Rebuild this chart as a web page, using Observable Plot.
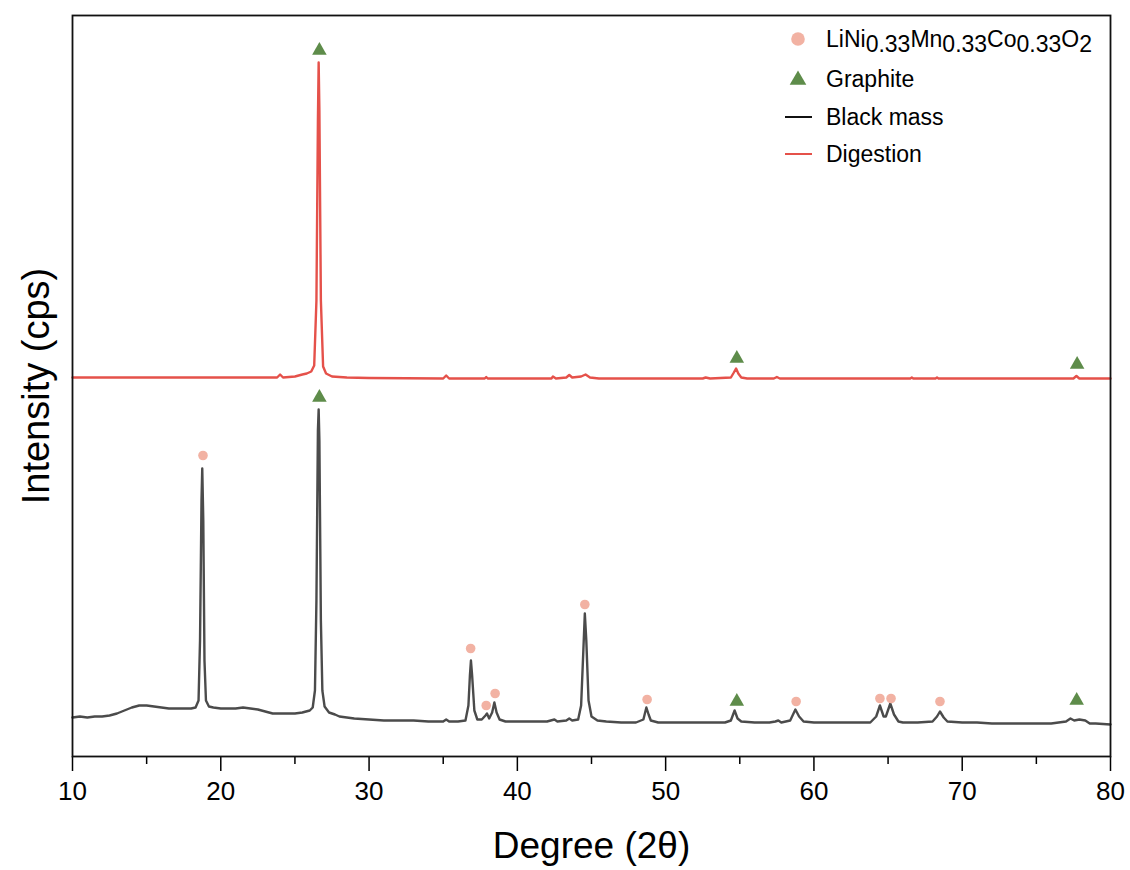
<!DOCTYPE html>
<html>
<head>
<meta charset="utf-8">
<script src="https://cdn.jsdelivr.net/npm/d3@7"></script>
<script src="https://cdn.jsdelivr.net/npm/@observablehq/plot@0.6"></script>
<style>
  html, body { margin: 0; padding: 0; background: #fff; }
  #chart { width: 1130px; height: 870px; }
  svg { font-family: "Liberation Sans", Arial, Helvetica, sans-serif; }
</style>
</head>
<body>
<div id="chart"></div>
<script>
// ---- Data (intensity in arbitrary cps units, offsets included) ----
const blackMassDeg = [10,10.5,11,11.5,12,12.5,13,13.5,14,14.5,15,15.5,16,16.5,17,17.5,18,18.3,18.5,18.6,18.7,18.75,18.82,18.9,19,19.2,19.5,20,20.5,21,21.5,22,22.5,23,23.5,24,24.5,25,25.5,26,26.2,26.35,26.45,26.55,26.6,26.65,26.75,26.85,27,27.3,27.7,28,28.5,29,30,31,32,33,34,35,35.2,35.4,36,36.5,36.7,36.8,36.87,36.95,37.1,37.3,37.6,37.85,37.95,38.1,38.3,38.45,38.6,38.8,39.2,40,41,42,42.5,42.7,43.3,43.5,43.7,44.1,44.3,44.45,44.55,44.65,44.8,45,45.4,46,47,48,48.5,48.7,48.85,49,49.5,50,51,52,53,54,54.4,54.65,54.85,55.1,56,57,57.4,57.6,57.8,58.4,58.75,59,59.3,60,61,62,63,63.8,64.2,64.45,64.7,64.85,65.15,65.4,65.7,66,67,68,68.3,68.5,68.75,69,70,71,72,73,74,75,76,77,77.3,77.55,77.9,78.3,78.6,79,80];
const blackMassInt = [390,400,390,400,400,410,430,460,490,510,510,500,490,480,480,480,480,490,560,1160,2560,2880,2360,960,560,500,490,480,480,480,490,480,470,450,430,430,430,430,440,460,490,660,1560,3260,3470,3160,1360,660,500,440,420,400,390,380,370,360,360,360,350,350,370,350,350,360,510,810,960,810,460,370,370,410,430,380,440,540,440,370,350,350,350,350,370,350,360,380,360,370,510,1060,1430,1160,560,400,360,350,340,340,370,490,420,360,340,340,340,340,340,340,360,460,380,350,340,340,350,360,340,360,470,400,350,340,340,340,340,340,400,510,400,400,530,420,350,340,340,350,400,450,390,350,340,340,330,330,330,330,330,350,380,360,370,360,330,330,320];

const digestionDeg = [10,12,14,16,18,20,22,23.8,24,24.2,25,25.5,25.8,26.1,26.3,26.45,26.55,26.6,26.65,26.75,26.9,27.1,27.5,28.5,30,35,35.2,35.4,37.8,37.9,38,42.3,42.4,42.6,43.3,43.5,43.7,44.3,44.6,44.9,45.5,50,52.5,52.7,53,54.4,54.6,54.75,54.9,55.1,55.5,57.3,57.5,57.7,60,66.5,66.6,66.7,68.2,68.3,68.4,75,77.5,77.7,77.9,80];
const digestionInt = [3790,3790,3790,3790,3790,3790,3790,3790,3820,3790,3800,3820,3830,3850,3910,4560,6360,6940,6460,4560,3900,3830,3800,3790,3785,3780,3810,3780,3780,3795,3780,3780,3800,3780,3790,3815,3790,3800,3820,3790,3780,3780,3780,3790,3780,3790,3840,3880,3830,3790,3780,3780,3795,3780,3780,3780,3790,3780,3780,3790,3780,3780,3780,3805,3780,3780];

// Phase markers
const nmcDeg = [18.8, 36.85, 37.9, 38.5, 44.55, 48.75, 58.8, 64.45, 65.2, 68.5];
const nmcInt = [3010, 1080, 510, 630, 1520, 570, 550, 580, 580, 550];
const graphiteBlackDeg = [26.65, 54.8, 77.72];
const graphiteBlackInt = [3590, 550, 560];
const graphiteRedDeg = [26.65, 54.8, 77.75];
const graphiteRedInt = [7060, 3980, 3920];

const majorTicks = [10, 20, 30, 40, 50, 60, 70, 80];
const minorTicks = [15, 25, 35, 45, 55, 65, 75];

const legendItems = ["LiNi0.33Mn0.33Co0.33O2", "Graphite", "Black mass", "Digestion"];

// ---- Build tables ----
const blackMass = blackMassDeg.map((d, i) => ({deg: d, int: blackMassInt[i]}));
const digestion = digestionDeg.map((d, i) => ({deg: d, int: digestionInt[i]}));
const nmc = nmcDeg.map((d, i) => ({deg: d, int: nmcInt[i]}));
const graphite = graphiteBlackDeg.map((d, i) => ({deg: d, int: graphiteBlackInt[i]}))
  .concat(graphiteRedDeg.map((d, i) => ({deg: d, int: graphiteRedInt[i]})));

const C_BLACK = "#4b4b4b", C_RED = "#e5514a", C_NMC = "#f2b2a3", C_GR = "#5e8c4a";

const chart = Plot.plot({
  width: 1130,
  height: 870,
  marginLeft: 72,
  marginRight: 20,
  marginTop: 15,
  marginBottom: 114,
  style: {fontFamily: '"Liberation Sans", Arial, Helvetica, sans-serif', fontSize: "26px", color: "#000", background: "#fff"},
  x: {domain: [10, 80]},
  y: {domain: [0, 7410], axis: null},
  marks: [
    Plot.axisX({ticks: minorTicks, tickSize: 8, tickFormat: () => "", strokeWidth: 1.5, label: null}),
    Plot.axisX({ticks: majorTicks, tickSize: 15, tickPadding: 10, fontSize: 26, strokeWidth: 1.5, label: null, tickFormat: d3.format("d")}),
    Plot.line(blackMass, {x: "deg", y: "int", stroke: C_BLACK, strokeWidth: 2.4, strokeLinejoin: "round"}),
    Plot.line(digestion, {x: "deg", y: "int", stroke: C_RED, strokeWidth: 2.4, strokeLinejoin: "round"}),
    Plot.dot(nmc, {x: "deg", y: "int", r: 4.8, fill: C_NMC, stroke: "none"}),
    Plot.dot(graphite, {x: "deg", y: "int", symbol: "triangle", r: 5.4, fill: C_GR, stroke: "none"}),
    Plot.frame({stroke: "#111", strokeWidth: 1.8}),
    Plot.text(["Degree (2θ)"], {frameAnchor: "bottom", dy: 90, lineAnchor: "middle", textAnchor: "middle", fontSize: 37, fill: "#000"}),
    Plot.text(["Intensity (cps)"], {frameAnchor: "left", dx: -36, rotate: -90, lineAnchor: "middle", textAnchor: "middle", fontSize: 38, fill: "#000"})
  ]
});

document.getElementById("chart").appendChild(chart);
d3.select(chart).selectAll("g[aria-label='x-axis tick label']").attr("font-size", 26);
d3.select(chart).selectAll("g[aria-label='x-axis tick label'] text").style("font-size", "26px");

// ---- Legend (inside the frame, top right) ----
const svg = d3.select(chart);
const lg = svg.append("g").attr("font-size", 23).style("font-size", "23px").attr("fill", "#000").attr("text-anchor", "start");
const rows = [39, 79, 117, 154];
const mx = 798, tx = 826;

lg.append("circle").attr("cx", mx).attr("cy", rows[0]).attr("r", 6.8).attr("fill", C_NMC);
lg.append("path").attr("d", d3.symbol(d3.symbolTriangle, 120)()).attr("transform", `translate(${mx},${rows[1] + 1})`).attr("fill", C_GR);
lg.append("line").attr("x1", 785).attr("x2", 812).attr("y1", rows[2]).attr("y2", rows[2]).attr("stroke", "#111").attr("stroke-width", 2);
lg.append("line").attr("x1", 785).attr("x2", 812).attr("y1", rows[3]).attr("y2", rows[3]).attr("stroke", C_RED).attr("stroke-width", 2);

// Formula with subscripts
const f = lg.append("text").attr("x", tx).attr("y", rows[0] + 8);
const parts = [["LiNi", false], ["0.33", true], ["Mn", false], ["0.33", true], ["Co", false], ["0.33", true], ["O", false], ["2", true]];
let shifted = false;
parts.forEach(([s, sub]) => {
  let dy = 0;
  if (sub && !shifted) { dy = 5; shifted = true; }
  else if (!sub && shifted) { dy = -5; shifted = false; }
  f.append("tspan").attr("dy", dy).text(s);
});
lg.append("text").attr("x", tx).attr("y", rows[1] + 8).text(legendItems[1]);
lg.append("text").attr("x", tx).attr("y", rows[2] + 8).text(legendItems[2]);
lg.append("text").attr("x", tx).attr("y", rows[3] + 8).text(legendItems[3]);
</script>
</body>
</html>
